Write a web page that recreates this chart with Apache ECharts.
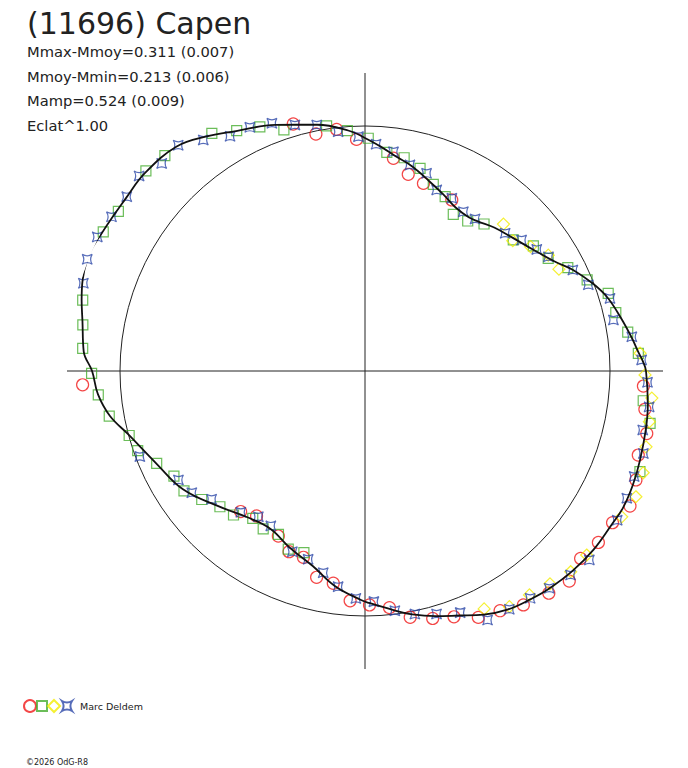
<!DOCTYPE html>
<html>
<head>
<meta charset="utf-8">
<script src="https://cdn.jsdelivr.net/npm/echarts@6/dist/echarts.min.js"></script>
<style>
html,body{margin:0;padding:0;background:#fff;}
#main{width:688px;height:768px;}
</style>
</head>
<body>
<div id="main"></div>
<script>
// ---- data: [phase angle (deg, clockwise from top), relative radius (reference circle = 1)] ----
var titleText = '(11696) Capen';
var infoLines = ['Mmax-Mmoy=0.311 (0.007)', 'Mmoy-Mmin=0.213 (0.006)', 'Mamp=0.524 (0.009)', 'Eclat^1.00'];
var observerName = 'Marc Deldem';
var copyrightText = '\u00a92026 OdG-R8';

var modelCurve = [
  [0,0.951],[4,0.918],[8,0.886],[13,0.857],[19,0.816],[24,0.788],[29,0.763],[34,0.757],[37,0.765],
  [42,0.788],[48,0.812],[54,0.845],[60,0.894],[64,0.943],[69,0.996],[73,1.033],[78,1.065],[83,1.098],
  [86,1.118],[88,1.135],[90,1.147],[97,1.163],[102,1.171],[108,1.180],[113,1.188],[118,1.192],
  [122,1.186],[128,1.184],[134,1.176],[140,1.163],[144,1.151],[149,1.135],[154,1.106],[159,1.069],
  [164,1.041],[169,1.012],[173,0.984],[179,0.947],[181,0.935],[188,0.886],[195,0.824],[203,0.784],
  [211,0.751],[219,0.767],[227,0.812],[237,0.886],[246,0.931],[255,1.000],[260,1.057],[265,1.094],
  [270,1.114],[274,1.151],[280,1.171],[284,1.192],[292,1.222],[298,1.212],[306,1.204],[312,1.208],
  [320,1.196],[326,1.155],[332,1.110],[340,1.069],[349,1.024],[356,0.984],[360,0.951]
];

var redPoints = [
  [357.9,0.946],[353.3,0.993],[348.3,0.988],[343.8,1.050],[7.6,0.876],[12.4,0.822],[17.3,0.802],
  [26.9,0.783],[93.1,1.138],[97.8,1.153],[102.5,1.178],[107.1,1.167],[111.9,1.192],[117.0,1.214],
  [121.5,1.185],[126.3,1.182],[131.0,1.166],[135.8,1.196],[140.4,1.177],[145.9,1.153],[150.6,1.123],
  [155.3,1.107],[160.1,1.067],[164.7,1.047],[169.6,1.022],[174.1,0.971],[178.9,0.955],[183.7,0.940],
  [188.5,0.876],[193.2,0.865],[198.3,0.801],[202.8,0.800],[207.7,0.761],[216.8,0.739],[221.5,0.766],
  [267.2,1.154]
];

var greenPoints = [
  [0.8,0.950],[355.8,0.984],[351.1,1.013],[341.4,1.038],[336.7,1.085],[331.9,1.112],[327.2,1.154],
  [317.1,1.200],[312.4,1.211],[302.9,1.199],[298.0,1.210],[284.1,1.188],[279.3,1.167],[274.6,1.156],
  [269.5,1.116],[264.9,1.093],[260.0,1.060],[254.7,0.998],[250.7,0.983],[246.1,0.930],[241.2,0.890],
  [236.5,0.886],[231.8,0.848],[226.9,0.811],[222.4,0.796],[217.3,0.756],[212.8,0.767],[207.9,0.755],
  [203.3,0.792],[198.6,0.782],[5.7,0.897],[10.4,0.885],[15.2,0.857],[20.1,0.811],[24.7,0.783],
  [29.4,0.734],[34.4,0.742],[39.0,0.772],[48.5,0.808],[53.4,0.856],[58.4,0.878],[63.0,0.929],
  [67.7,0.980],[72.3,1.042],[76.9,1.051],[81.6,1.084],[86.3,1.118],[96.1,1.142],[100.4,1.183],
  [110.1,1.195]
];

var yellowPoints = [
  [43.3,0.824],[48.6,0.804],[53.1,0.845],[57.7,0.885],[62.3,0.894],[86.3,1.125],[90.8,1.143],
  [95.4,1.176],[100.1,1.179],[105.1,1.188],[110.1,1.209],[114.9,1.219],[119.6,1.205],[129.7,1.176],
  [134.3,1.173],[139.0,1.151],[143.7,1.134],[148.5,1.128],[153.4,1.086]
];

var bluePoints = [
  [2.8,0.927],[358.4,0.957],[353.6,0.983],[348.9,1.023],[344.1,1.044],[339.4,1.080],[334.7,1.100],
  [330.1,1.105],[325.0,1.151],[320.4,1.196],[315.6,1.186],[310.8,1.218],[306.2,1.205],[301.3,1.211],
  [296.6,1.222],[291.9,1.222],[287.3,1.204],[7.4,0.902],[12.3,0.861],[17.3,0.845],[21.6,0.795],
  [26.7,0.789],[31.7,0.764],[35.9,0.766],[45.5,0.802],[50.1,0.833],[54.7,0.859],[58.1,0.882],
  [64.1,0.943],[68.9,0.977],[73.5,1.043],[78.4,1.035],[82.7,1.098],[87.7,1.130],[92.3,1.154],
  [97.2,1.169],[102.0,1.159],[106.5,1.185],[111.4,1.180],[115.9,1.188],[120.6,1.196],[130.1,1.197],
  [134.8,1.182],[139.7,1.163],[144.0,1.147],[148.8,1.137],[153.8,1.133],[158.5,1.060],[163.6,1.034],
  [168.4,1.013],[172.9,0.986],[177.8,0.942],[182.3,0.929],[187.1,0.887],[191.7,0.841],[196.8,0.803],
  [201.9,0.795],[211.3,0.740],[216.2,0.737],[221.3,0.768],[230.1,0.816],[234.9,0.864],[239.7,0.882],
  [249.2,0.983]
];

// ---- layout / style ----
var CX = 365, CY = 371, REF_PX = 245, AXIS_PX = 298;
var FONT = 'DejaVu Sans';
var starPath = 'path://M0,0 Q5,3.2 10,0 Q6.8,5 10,10 Q5,6.8 0,10 Q3.2,5 0,0 Z';

function toPolar(list){ return list.map(function(p){ return [p[1], p[0]]; }); }

function markerSeries(name, data, symbol, size, color){
  return {
    type: 'scatter', name: name, coordinateSystem: 'polar',
    data: toPolar(data), symbol: symbol, symbolSize: size, clip: false,
    itemStyle: { color: 'rgba(0,0,0,0)', borderColor: color, borderWidth: 1.2 },
    emphasis: { disabled: true }, silent: true
  };
}

var RED = '#f01818', GREEN = '#46ad30', YELLOW = '#f2ec00', BLUE = '#2c47a8';
var names = ['obs-circle', 'obs-square', 'obs-diamond', observerName];

function legendFor(name, left, w, h, label){
  return {
    data: [name], left: left, top: 705 - h / 2, padding: 0,
    itemWidth: w, itemHeight: h, itemGap: 0, selectedMode: false,
    formatter: function(){ return label; },
    textStyle: { fontFamily: FONT, fontSize: 9.5, color: '#222', padding: [0, 0, 0, 3] },
    itemStyle: { color: 'rgba(0,0,0,0)' }
  };
}

var chart = echarts.init(document.getElementById('main'), null, { renderer: 'svg', width: 688, height: 768 });

var graphics = [
  { type: 'text', left: 27, top: 8, style: { text: titleText, fontFamily: FONT, fontSize: 30, fill: '#222' } }
];
infoLines.forEach(function(t, i){
  graphics.push({ type: 'text', left: 27, top: 44 + i * 24.7,
    style: { text: t, fontFamily: FONT, fontSize: 14.7, fill: '#222' } });
});
graphics.push({ type: 'text', left: 26, top: 758,
  style: { text: copyrightText, fontFamily: FONT, fontSize: 8, fill: '#222' } });

chart.setOption({
  animation: false,
  backgroundColor: '#fff',
  polar: { center: [CX, CY], radius: AXIS_PX },
  angleAxis: {
    type: 'value', min: 0, max: 360, interval: 90, startAngle: 90, clockwise: true,
    axisLine: { show: false }, axisTick: { show: false }, axisLabel: { show: false },
    splitLine: { show: true, lineStyle: { color: '#222', width: 1 } }
  },
  radiusAxis: {
    type: 'value', min: 0, max: AXIS_PX / REF_PX, interval: 1,
    axisLine: { show: false }, axisTick: { show: false }, axisLabel: { show: false },
    splitLine: { show: true, lineStyle: { color: ['rgba(0,0,0,0)', '#222', 'rgba(0,0,0,0)'], width: 1 } }
  },
  legend: [
    legendFor(names[0], 23, 12, 12, ''),
    legendFor(names[1], 36, 10, 10, ''),
    legendFor(names[2], 47, 12, 12, ''),
    legendFor(names[3], 61, 10, 10, observerName)
  ],
  graphic: graphics,
  series: [
    markerSeries(names[0], redPoints, 'circle', 12, RED),
    markerSeries(names[1], greenPoints, 'rect', 10, GREEN),
    markerSeries(names[2], yellowPoints, 'diamond', 12, YELLOW),
    markerSeries(names[3], bluePoints, starPath, 10, BLUE),
    {
      type: 'line', name: 'model', coordinateSystem: 'polar', data: toPolar(modelCurve),
      smooth: 0.4, showSymbol: false, symbol: 'none', clip: false, silent: true,
      lineStyle: { color: '#111', width: 1.8 }, z: 5
    }
  ]
});
</script>
</body>
</html>
